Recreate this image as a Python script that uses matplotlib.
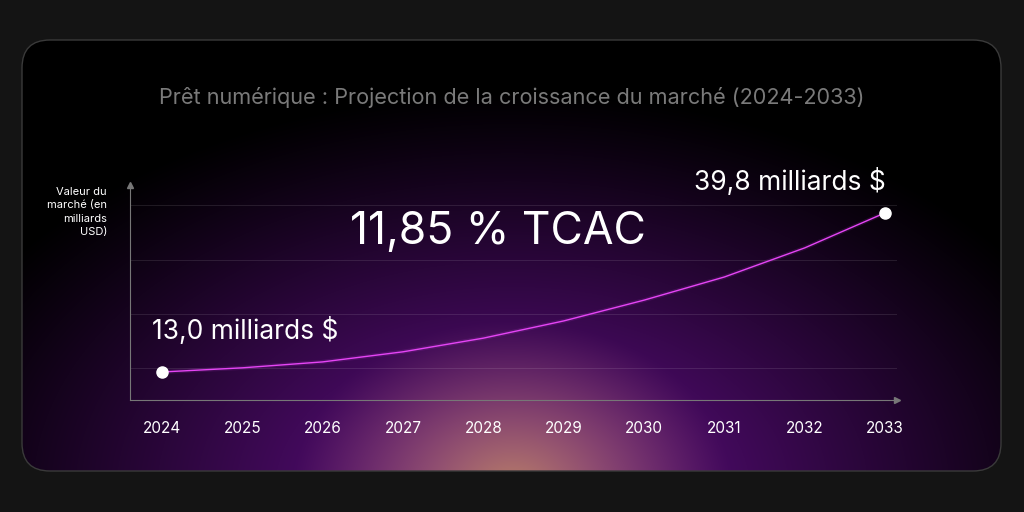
import numpy as np
import matplotlib
matplotlib.use("Agg")
import matplotlib.pyplot as plt
from matplotlib.patches import FancyBboxPatch

years = [2024, 2025, 2026, 2027, 2028, 2029, 2030, 2031, 2032, 2033]
values = [13.0, 13.7, 14.7, 16.4, 18.7, 21.6, 25.1, 29.0, 33.9, 39.8]
grid_vals = [13.67, 22.78, 31.9, 41.2]
title = "Prêt numérique : Projection de la croissance du marché (2024-2033)"
cagr = "11,85 % TCAC"
start_label = "13,0 milliards $"
end_label = "39,8 milliards $"
ylabel = "Valeur du\nmarché (en\nmilliards\nUSD)"

W, H = 1024, 512
fig = plt.figure(figsize=(W/100, H/100), dpi=100, facecolor="#141414")

bg = fig.add_axes([0, 0, 1, 1])
bg.set_xlim(0, W); bg.set_ylim(H, 0); bg.axis("off")
yy, xx = np.mgrid[0:H, 0:W]
cx, cy = 512, 490
d_p = np.sqrt(((xx-cx)/620)**2 + ((yy-cy)/400)**2)
d_o = np.sqrt(((xx-cx)/220)**2 + ((yy-cy)/170)**2)
pw = np.clip(1-d_p, 0, 1)**1.1
ow = np.clip(1-d_o, 0, 1)**1.2
img = np.zeros((H, W, 3))
purple = np.array([0.42, 0.06, 0.58])
orange = np.array([0.72, 0.50, 0.40])
img += pw[..., None]*purple
img = img*(1-ow[..., None]) + ow[..., None]*orange
img = np.clip(img, 0, 1)
im = bg.imshow(img, extent=(0, W, H, 0), zorder=0)
card = FancyBboxPatch((22, 40), 979, 431, boxstyle="round,pad=0,rounding_size=28",
                      transform=bg.transData, facecolor="none", edgecolor="#3a3a3a", lw=1, zorder=2)
bg.add_patch(card)
clip = FancyBboxPatch((22, 40), 979, 431, boxstyle="round,pad=0,rounding_size=28",
                      transform=bg.transData, facecolor="none", edgecolor="none")
bg.add_patch(clip)
im.set_clip_path(clip)

l, r, t, b = 130, 897, 185, 400
ax = fig.add_axes([l/W, 1-b/H, (r-l)/W, (b-t)/H])
ax.patch.set_alpha(0)
ax.set_xlim(2023.6, 2033.15)
ax.set_ylim(8.28, 44.5)
for s in ["top", "right"]:
    ax.spines[s].set_visible(False)
for s in ["left", "bottom"]:
    ax.spines[s].set_color("#777777")
ax.set_yticks([])
ax.set_xticks(years)
ax.set_xticklabels([str(y) for y in years], color="white", fontsize=11, fontfamily="Inter")
ax.tick_params(axis="x", length=0, pad=15)
for g in grid_vals:
    ax.axhline(g, color="#ffffff", alpha=0.1, lw=0.8)
ax.plot(1, 0, ">", color="#777777", transform=ax.transAxes, clip_on=False, ms=5)
ax.plot(0, 1, "^", color="#777777", transform=ax.transAxes, clip_on=False, ms=5)

ax.plot(years, values, color="#e040fb", lw=3, alpha=0.12)
ax.plot(years, values, color="#e545f5", lw=1.0)
ax.plot([years[0], years[-1]], [values[0], values[-1]], "o", color="white", ms=8, zorder=5)

fig.text(512/W, 1-98/H, title, ha="center", va="center", color="#7a7a7a", fontsize=15.6, fontfamily="Inter")
fig.text(498/W, 1-232/H, cagr, ha="center", va="center", color="white", fontsize=32, fontfamily="Inter")
fig.text(245/W, 1-331/H, start_label, ha="center", va="center", color="white", fontsize=19, fontfamily="Inter")
fig.text(790/W, 1-182/H, end_label, ha="center", va="center", color="white", fontsize=19, fontfamily="Inter")
fig.text(107/W, 1-212/H, ylabel, ha="right", va="center", color="white", fontsize=8, fontfamily="Inter", linespacing=1.4)

fig.savefig("out.png", dpi=100, facecolor=fig.get_facecolor())
